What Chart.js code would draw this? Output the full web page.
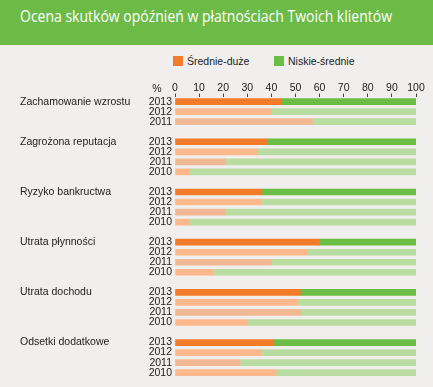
<!DOCTYPE html>
<html>
<head>
<meta charset="utf-8">
<script src="https://cdn.jsdelivr.net/npm/chart.js@4"></script>
<style>
body { margin: 0; background: #f1efed; }
#wrap { position: relative; width: 433px; height: 387px; overflow: hidden; background: #f1efed; }
#head { position: absolute; left: 0; top: 0; width: 433px; height: 45px; background: #6cbb46; }
#head span { position: absolute; left: 20px; top: 4px; color: #fff; font: 17px "Open Sans", sans-serif; white-space: nowrap; transform-origin: 0 0; }
#legend { position: absolute; top: 55px; left: 0; font: 10.5px "Liberation Sans", Arial, sans-serif; color: #222; }
#legend i { position: absolute; top: 1px; width: 10px; height: 10px; }
#legend b { position: absolute; top: 0; font-weight: normal; white-space: nowrap; line-height: 12px; }
canvas { position: absolute; left: 0; top: 0; }
</style>
</head>
<body>
<div id="wrap">
  <div id="head"><span id="title">Ocena skutków opóźnień w płatnościach Twoich klientów</span></div>
  <div id="legend">
    <i style="left:173px;background:#f47b2a"></i><b style="left:187px">Średnie-duże</b>
    <i style="left:274px;background:#6cbd45"></i><b style="left:288px">Niskie-średnie</b>
  </div>
  <canvas id="chart" width="433" height="387"></canvas>
</div>
<script>
const GROUPS = ['Zachamowanie wzrostu', 'Zagrożona reputacja', 'Ryzyko bankructwa', 'Utrata płynności', 'Utrata dochodu', 'Odsetki dodatkowe'];
const YEARS = [
    ['2013', '2012', '2011'],
    ['2013', '2012', '2011', '2010'],
    ['2013', '2012', '2011', '2010'],
    ['2013', '2012', '2011', '2010'],
    ['2013', '2012', '2011', '2010'],
    ['2013', '2012', '2011', '2010']
];
const MEDIUM_HIGH = [
    [44, 40, 57],
    [38, 34, 21, 6],
    [36, 36, 21, 6],
    [60, 55, 40, 16],
    [52, 51, 52, 30],
    [41, 36, 27, 42]
];
const LOW_MEDIUM = [
    [56, 60, 43],
    [62, 66, 79, 94],
    [64, 64, 79, 94],
    [40, 45, 60, 84],
    [48, 49, 48, 70],
    [59, 64, 73, 58]
];
const X_TICKS = [0, 10, 20, 30, 40, 50, 60, 70, 80, 90, 100];

const ORANGE = { '2013': '#f47b2a', '2012': '#fdb98b', '2011': '#f2b893', '2010': '#fdb98b' };
const GREEN = { '2013': '#6cbd45', '2012': '#b9dca0', '2011': '#b9dca0', '2010': '#b9dca0' };
const FONT = { family: '"Liberation Sans", Arial, sans-serif', size: 10.5 };

// squeeze the title to the width it has in the original
const title = document.getElementById('title');
title.style.transform = 'scaleX(' + (372 / title.getBoundingClientRect().width) + ')';

// flatten groups into rows, with an empty row between groups
const yearRows = [], groupRows = [], mhRows = [], lmRows = [], orangeRows = [], greenRows = [];
GROUPS.forEach((group, g) => {
    if (g > 0) {
        yearRows.push(''); groupRows.push(''); mhRows.push(null); lmRows.push(null);
        orangeRows.push('#000'); greenRows.push('#000');
    }
    YEARS[g].forEach((year, i) => {
        yearRows.push(year);
        groupRows.push(i === 0 ? group : '');
        mhRows.push(MEDIUM_HIGH[g][i]);
        lmRows.push(LOW_MEDIUM[g][i]);
        orangeRows.push(ORANGE[year]);
        greenRows.push(GREEN[year]);
    });
});

const percentSign = {
    id: 'percentSign',
    afterDraw(chart) {
        const ctx = chart.ctx;
        const xs = chart.scales.x;
        ctx.save();
        ctx.font = '10.5px "Liberation Sans", Arial, sans-serif';
        ctx.fillStyle = '#222';
        ctx.textAlign = 'center';
        ctx.textBaseline = 'middle';
        ctx.fillText('%', chart.chartArea.left - 18, xs.top + 6.5);
        ctx.restore();
    }
};

new Chart(document.getElementById('chart'), {
    type: 'bar',
    data: {
        labels: yearRows,
        datasets: [
            { label: 'Średnie-duże', data: mhRows, backgroundColor: orangeRows, barThickness: 6, yAxisID: 'y' },
            { label: 'Niskie-średnie', data: lmRows, backgroundColor: greenRows, barThickness: 6, yAxisID: 'y' }
        ]
    },
    options: {
        indexAxis: 'y',
        responsive: false,
        animation: false,
        layout: { padding: { top: 83, left: 20, right: 17, bottom: 4 } },
        plugins: { legend: { display: false }, tooltip: { enabled: false } },
        scales: {
            x: {
                position: 'top',
                stacked: true,
                min: 0,
                max: 100,
                afterBuildTicks: (scale) => { scale.ticks = X_TICKS.map(v => ({ value: v })); },
                ticks: { font: FONT, color: '#222', padding: -1, maxRotation: 0 },
                grid: { drawOnChartArea: false, tickLength: 3, color: '#444' },
                border: { display: false }
            },
            y: {
                stacked: true,
                weight: 0,
                ticks: { font: FONT, color: '#222', padding: 3, autoSkip: false },
                grid: { display: false, drawTicks: false },
                border: { display: false },
                afterFit: (scale) => { scale.width = 30; }
            },
            y2: {
                type: 'category',
                position: 'left',
                labels: groupRows,
                offset: true,
                weight: 1,
                ticks: { font: FONT, color: '#222', crossAlign: 'far', autoSkip: false, padding: 0 },
                grid: { display: false, drawTicks: false },
                border: { display: false },
                afterFit: (scale) => { scale.width = 125; }
            }
        }
    },
    plugins: [percentSign]
});
</script>
</body>
</html>
